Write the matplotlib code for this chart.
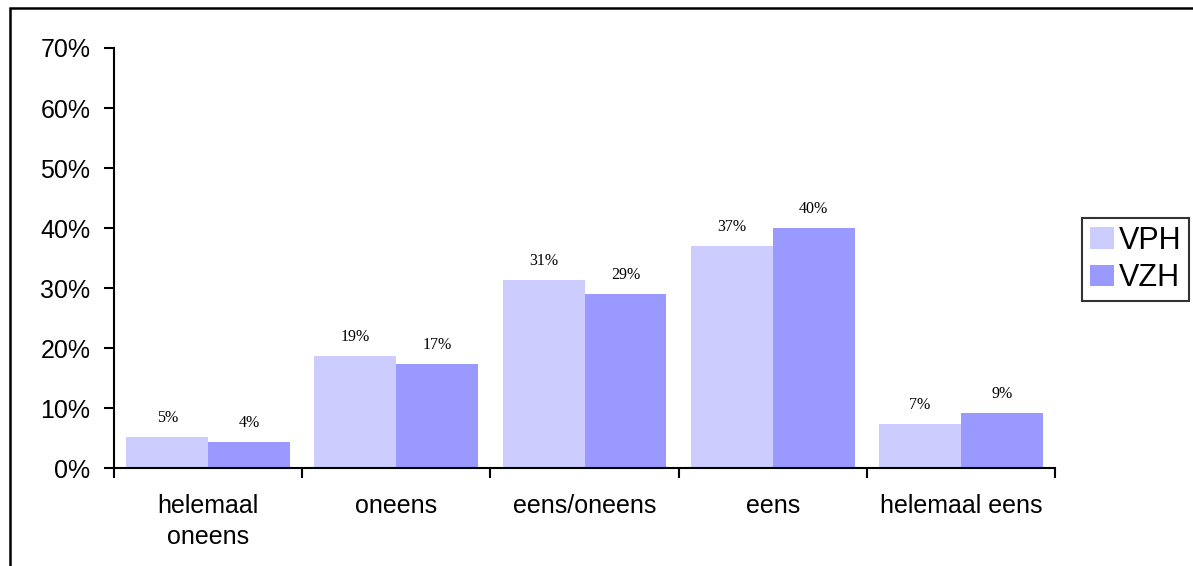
import matplotlib
matplotlib.use("Agg")
import matplotlib.pyplot as plt
import numpy as np
from matplotlib.patches import Rectangle
from matplotlib.ticker import FuncFormatter, FixedLocator, NullFormatter

# Data
categories = ["helemaal\noneens", "oneens", "eens/oneens", "eens", "helemaal eens"]
vph = [5.2, 18.7, 31.3, 37.0, 7.4]
vzh = [4.4, 17.4, 29.0, 40.0, 9.1]
vph_labels = ["5%", "19%", "31%", "37%", "7%"]
vzh_labels = ["4%", "17%", "29%", "40%", "9%"]
series_names = ["VPH", "VZH"]
colors = ["#CCCCFF", "#9999FF"]

plt.rcParams["font.family"] = ["Liberation Sans", "DejaVu Sans"]

fig = plt.figure(figsize=(11.93, 5.66), dpi=100)
ax = fig.add_axes([0.0956, 0.1731, 0.8843 - 0.0956, 0.9152 - 0.1731])

x = np.arange(len(categories))
w = 0.435
b1 = ax.bar(x - w / 2, vph, w, color=colors[0], label=series_names[0])
b2 = ax.bar(x + w / 2, vzh, w, color=colors[1], label=series_names[1])

# value labels above bars (serif, like the original)
for bars, labels in [(b1, vph_labels), (b2, vzh_labels)]:
    for rect, lab in zip(bars, labels):
        ax.annotate(lab, (rect.get_x() + rect.get_width() / 2, rect.get_height()),
                    xytext=(0, 19), textcoords="offset pixels",
                    ha="center", va="center", fontsize=11.5,
                    family="Liberation Serif")

ax.set_xlim(-0.5, len(categories) - 0.5)
ax.set_ylim(0, 70)
ax.set_yticks(np.arange(0, 71, 10))
ax.yaxis.set_major_formatter(FuncFormatter(lambda v, p: f"{v:.0f}%"))
ax.tick_params(axis="y", labelsize=18, length=7, width=1.5, pad=10)

# boundary ticks between categories, labels centered
ax.xaxis.set_major_locator(FixedLocator(np.arange(-0.5, len(categories), 1.0)))
ax.xaxis.set_major_formatter(NullFormatter())
ax.xaxis.set_minor_locator(FixedLocator(x))
ax.set_xticklabels(categories, minor=True, fontsize=18, linespacing=1.35)
ax.tick_params(axis="x", which="major", length=7, width=1.5)
ax.tick_params(axis="x", which="minor", length=0, pad=19)
for lab in ax.get_xticklabels(minor=True):
    lab.set_verticalalignment("top")

for s in ["top", "right"]:
    ax.spines[s].set_visible(False)
for s in ["left", "bottom"]:
    ax.spines[s].set_linewidth(1.5)

leg = fig.legend(loc="upper left", bbox_to_anchor=(0.907, 0.615),
                 fontsize=22, frameon=True, fancybox=False,
                 borderaxespad=0, borderpad=0.25, handlelength=0.8,
                 handleheight=0.7, handletextpad=0.15, labelspacing=0.25)
leg.get_frame().set_edgecolor("black")
leg.get_frame().set_linewidth(1.5)

# outer chart border (runs off the right and bottom edge)
fig.patches.append(Rectangle((10 / 1193, -0.05), 1.1, 1 - 8 / 566 + 0.05,
                             transform=fig.transFigure, fill=False,
                             edgecolor="black", linewidth=1.8))

fig.savefig("out.png", dpi=100)
